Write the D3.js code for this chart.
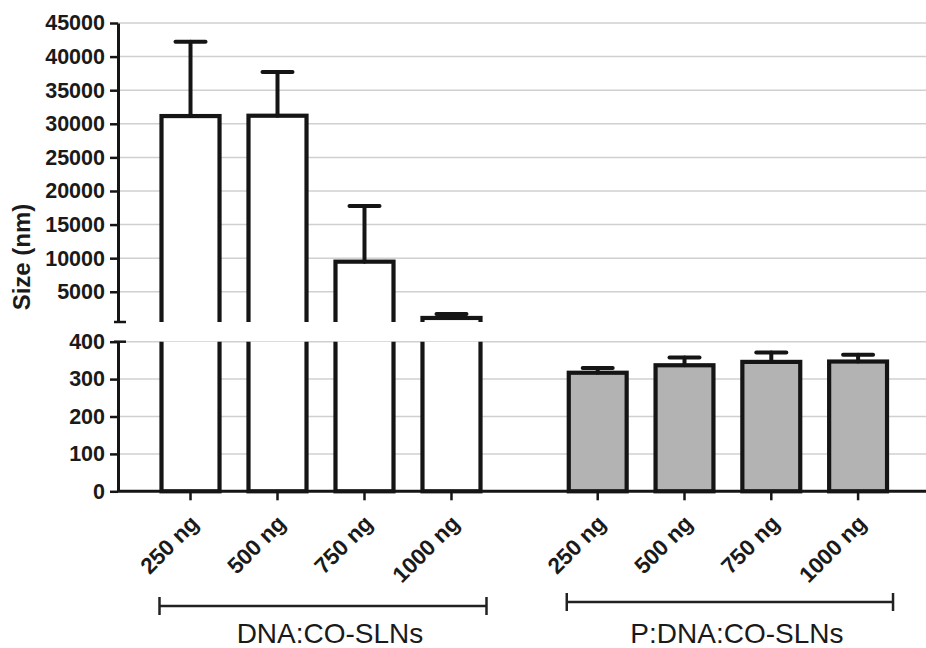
<!DOCTYPE html>
<html>
<head>
<meta charset="utf-8">
<script src="https://cdn.jsdelivr.net/npm/d3@7"></script>
<style>
  body { margin: 0; background: #fff; }
  svg { display: block; font-family: "Liberation Sans", Arial, Helvetica, sans-serif; }
</style>
</head>
<body>
<svg width="926" height="648"></svg>
<script>
const groups = ["DNA:CO-SLNs", "P:DNA:CO-SLNs"];
const doses = ["250 ng", "500 ng", "750 ng", "1000 ng"];
const dnaMeans = [31150, 31200, 9480, 1100];
const dnaErrors = [11050, 6500, 8300, 600];
const pdnaMeans = [317, 337, 346, 347];
const pdnaErrors = [13, 21, 25, 18];
const upperTicks = [5000, 10000, 15000, 20000, 25000, 30000, 35000, 40000, 45000];
const lowerTicks = [0, 100, 200, 300, 400];

const svg = d3.select("svg");
const width = +svg.attr("width");

const axisX = 118;
const ink = "#151515";

// two y segments (broken axis)
const yTop = d3.scaleLinear().domain([500, 45000]).range([322, 23]);
const yBot = d3.scaleLinear().domain([0, 400]).range([491.3, 341.7]);

// one band scale per group
const xScales = [
  d3.scaleBand().domain(doses).range([147, 495]).paddingInner(0.333).paddingOuter(0.1667),
  d3.scaleBand().domain(doses).range([554.3, 901.5]).paddingInner(0.333).paddingOuter(0.1667)
];

const series = [
  { means: dnaMeans, errors: dnaErrors, fill: "#ffffff" },
  { means: pdnaMeans, errors: pdnaErrors, fill: "#b3b3b3" }
];

// gridlines
const grid = svg.append("g").attr("stroke", "#d0d0d0").attr("stroke-width", 1.5);
grid.selectAll(".gt").data(upperTicks).join("line")
  .attr("x1", axisX).attr("x2", width)
  .attr("y1", d => yTop(d)).attr("y2", d => yTop(d));
grid.selectAll(".gb").data(lowerTicks.filter(d => d > 0)).join("line")
  .attr("x1", axisX).attr("x2", width)
  .attr("y1", d => yBot(d)).attr("y2", d => yBot(d));

// clip paths for the two segments
const defs = svg.append("defs");
defs.append("clipPath").attr("id", "clipTop")
  .append("rect").attr("x", 0).attr("y", 0).attr("width", width).attr("height", yTop.range()[0]);
defs.append("clipPath").attr("id", "clipBot")
  .append("rect").attr("x", 0).attr("y", yBot.range()[1]).attr("width", width).attr("height", 200);

// bars
series.forEach((s, gi) => {
  const x = xScales[gi];
  const rows = doses.map((d, i) => ({ dose: d, v: s.means[i], e: s.errors[i] }));

  // upper segment: open bars (no bottom edge)
  svg.append("g").attr("clip-path", "url(#clipTop)")
    .selectAll("rect").data(rows.filter(r => r.v > yTop.domain()[0])).join("rect")
    .attr("x", r => x(r.dose))
    .attr("y", r => yTop(r.v))
    .attr("width", x.bandwidth())
    .attr("height", r => yTop(0) - yTop(r.v) + 10)
    .attr("fill", s.fill).attr("stroke", ink).attr("stroke-width", 4.2);

  // lower segment
  svg.append("g").attr("clip-path", "url(#clipBot)")
    .selectAll("rect").data(rows).join("rect")
    .attr("x", r => x(r.dose))
    .attr("y", r => Math.max(yBot(r.v), 300))
    .attr("width", x.bandwidth())
    .attr("height", r => yBot(0) - Math.max(yBot(r.v), 300))
    .attr("fill", s.fill).attr("stroke", ink).attr("stroke-width", 4.2);

  // error bars (upper only)
  const eb = svg.append("g").attr("stroke", ink).attr("stroke-width", 4).attr("stroke-linecap", "round");
  rows.forEach(r => {
    const y = r.v > yTop.domain()[0] ? yTop : yBot;
    const cx = x(r.dose) + x.bandwidth() / 2;
    eb.append("line").attr("x1", cx).attr("x2", cx)
      .attr("y1", y(r.v)).attr("y2", y(r.v + r.e));
    eb.append("line").attr("x1", cx - 15).attr("x2", cx + 15)
      .attr("y1", y(r.v + r.e)).attr("y2", y(r.v + r.e));
  });
});

// y axes
function styleAxis(g) {
  g.select(".domain").attr("stroke", ink).attr("stroke-width", 3);
  g.selectAll(".tick line").attr("stroke", ink).attr("stroke-width", 2.5);
  g.selectAll(".tick text").attr("fill", "#1a1a1a")
    .attr("font-size", 21.5).attr("font-weight", "bold");
}
svg.append("g").attr("transform", `translate(${axisX},0)`)
  .call(d3.axisLeft(yTop).tickValues(upperTicks).tickFormat(d3.format("d"))
    .tickSize(8).tickSizeOuter(0).tickPadding(5))
  .call(styleAxis);
svg.append("g").attr("transform", `translate(${axisX},0)`)
  .call(d3.axisLeft(yBot).tickValues(lowerTicks).tickFormat(d3.format("d"))
    .tickSize(8).tickSizeOuter(0).tickPadding(5))
  .call(styleAxis);

// break caps
svg.append("g").attr("stroke", ink).attr("stroke-width", 2.5)
  .selectAll("line").data([yTop.range()[0], yBot.range()[1]]).join("line")
  .attr("x1", axisX - 4).attr("x2", axisX + 8)
  .attr("y1", d => d).attr("y2", d => d);

// x axis line
svg.append("line")
  .attr("x1", axisX).attr("x2", width)
  .attr("y1", yBot(0)).attr("y2", yBot(0))
  .attr("stroke", ink).attr("stroke-width", 3);

// x ticks, rotated labels, group brackets
xScales.forEach((x, gi) => {
  const g = svg.append("g").attr("transform", `translate(0,${yBot(0)})`)
    .call(d3.axisBottom(x).tickSize(9).tickPadding(0));
  g.select(".domain").remove();
  g.selectAll(".tick line").attr("stroke", ink).attr("stroke-width", 2.5);
  g.selectAll(".tick text")
    .attr("fill", "#1a1a1a").attr("font-size", 22.5).attr("font-weight", "bold")
    .attr("text-anchor", "end")
    .attr("dy", "0.35em")
    .attr("transform", "translate(4,28) rotate(-45)")
    .attr("y", 0);

  const x0 = x(doses[0]) - 2;
  const x1 = x(doses[doses.length - 1]) + x.bandwidth() + 6;
  const by = gi === 0 ? 606 : 602;
  const b = svg.append("g").attr("stroke", "#222").attr("stroke-width", 2.5);
  b.append("line").attr("x1", x0).attr("x2", x1).attr("y1", by).attr("y2", by);
  b.append("line").attr("x1", x0).attr("x2", x0).attr("y1", by - 9).attr("y2", by + 9);
  b.append("line").attr("x1", x1).attr("x2", x1).attr("y1", by - 9).attr("y2", by + 9);

  svg.append("text")
    .attr("x", (x0 + x1) / 2 + 7).attr("y", 643)
    .attr("text-anchor", "middle").attr("font-size", 28)
    .attr("fill", "#1a1a1a")
    .text(groups[gi]);
});

// y label
svg.append("text")
  .attr("transform", "translate(30,257) rotate(-90)")
  .attr("text-anchor", "middle")
  .attr("font-size", 24).attr("font-weight", "bold").attr("fill", "#1a1a1a")
  .text("Size (nm)");
</script>
</body>
</html>
